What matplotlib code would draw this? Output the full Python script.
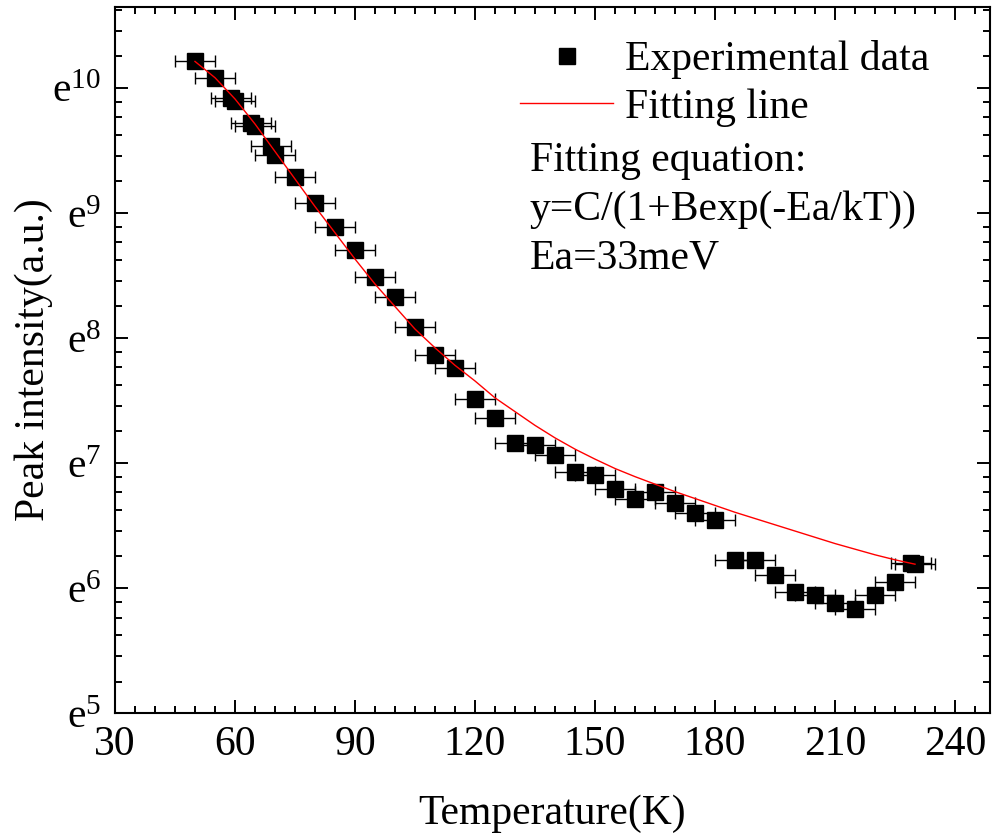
import numpy as np
import matplotlib
matplotlib.use("Agg")
import matplotlib.pyplot as plt
from matplotlib.ticker import FixedLocator, MultipleLocator

plt.rcParams['font.family'] = 'Liberation Serif'
plt.rcParams['mathtext.fontset'] = 'custom'
plt.rcParams['mathtext.rm'] = 'Liberation Serif'

# datos (ln dell'intensita')
temp = [50, 55, 59, 60, 64, 65, 69, 70, 75, 80, 85, 90, 95, 100, 105, 110, 115,
        120, 125, 130, 135, 140, 145, 150, 155, 160, 165, 170, 175, 180, 185,
        190, 195, 200, 205, 210, 215, 220, 225, 229, 230]
ln_peak = [10.21, 10.08, 9.92, 9.89, 9.72, 9.69, 9.53, 9.46, 9.29, 9.08, 8.89,
           8.70, 8.49, 8.33, 8.09, 7.86, 7.76, 7.51, 7.36, 7.16, 7.14, 7.06,
           6.93, 6.90, 6.79, 6.71, 6.77, 6.68, 6.60, 6.54, 6.22, 6.22, 6.10,
           5.97, 5.94, 5.88, 5.83, 5.94, 6.05, 6.20, 6.19]
temp_err = 5

# linea di fit
fit_temp = [50, 55, 60, 65, 70, 75, 80, 85, 90, 95, 100, 105, 110, 115, 120,
            125, 130, 135, 140, 145, 150, 155, 160, 165, 170, 175, 180, 185,
            190, 195, 200, 205, 210, 215, 220, 225, 230]
fit_ln = [10.21, 10.08, 9.91, 9.71, 9.49, 9.27, 9.05, 8.84, 8.63, 8.43, 8.25,
          8.07, 7.92, 7.78, 7.655, 7.52, 7.41, 7.30, 7.20, 7.11, 7.03, 6.955,
          6.89, 6.83, 6.77, 6.715, 6.66, 6.605, 6.555, 6.505, 6.455, 6.405,
          6.355, 6.31, 6.265, 6.225, 6.19]

exponents = [5, 6, 7, 8, 9, 10]
x_ticks = [30, 60, 90, 120, 150, 180, 210, 240]

peak = np.exp(ln_peak)
fit_peak = np.exp(fit_ln)

fs = 30

fig = plt.figure(figsize=(9.92, 8.35), dpi=100)
ax = fig.add_axes([115/992, 1-713/835, 875/992, 706/835])

ax.errorbar(temp, peak, xerr=temp_err, fmt='none', ecolor='black',
            elinewidth=1, capsize=4.5, capthick=1)
pts, = ax.plot(temp, peak, 's', color='black', ms=11, label='Experimental data')
fitline, = ax.plot(fit_temp, fit_peak, '-', color='red', lw=1, label='Fitting line')

ax.set_yscale('log', base=np.e)
ax.set_ylim(np.exp(5), 42000)
ax.set_xlim(30, 248.75)

ax.set_xticks(x_ticks)
ax.xaxis.set_minor_locator(MultipleLocator(5))
ax.set_yticks([np.exp(e) for e in exponents])
ax.set_yticklabels([r'$\mathregular{e^{%d}}$' % e for e in exponents])
minor = []
for n in range(5, 11):
    lo, hi = np.exp(n), np.exp(n + 1)
    minor += [lo + k * (hi - lo) / 6 for k in range(1, 6)]
ax.yaxis.set_minor_locator(FixedLocator(minor))
ax.yaxis.set_minor_formatter(plt.NullFormatter())

ax.tick_params(which='both', direction='in', top=True, right=True, width=1.4,
               labelsize=fs)
ax.tick_params(which='major', length=9.5)
ax.tick_params(which='minor', length=5)
ax.tick_params(axis='x', pad=9)
ax.tick_params(axis='y', pad=10)
for s in ax.spines.values():
    s.set_linewidth(1.5)

ax.set_xlabel('Temperature(K)', fontsize=fs)
ax.set_ylabel('Peak intensity(a.u.)', fontsize=fs)
ax.xaxis.set_label_coords(0.5, -0.116)
ax.yaxis.set_label_coords(-0.071, 0.5)

ax.legend(handles=[pts, fitline], loc='upper left', bbox_to_anchor=(0.463, 0.953),
          frameon=False, fontsize=fs, borderpad=0, borderaxespad=0,
          handlelength=2.23, handletextpad=0.29, labelspacing=0.22)

ax.text(0.474, 0.7677, 'Fitting equation:', transform=ax.transAxes, fontsize=fs, va='baseline')
ax.text(0.474, 0.6983, 'y=C/(1+Bexp(-Ea/kT))', transform=ax.transAxes, fontsize=fs, va='baseline')
ax.text(0.474, 0.6303, 'Ea=33meV', transform=ax.transAxes, fontsize=fs, va='baseline')

fig.savefig('out.png', dpi=100)
